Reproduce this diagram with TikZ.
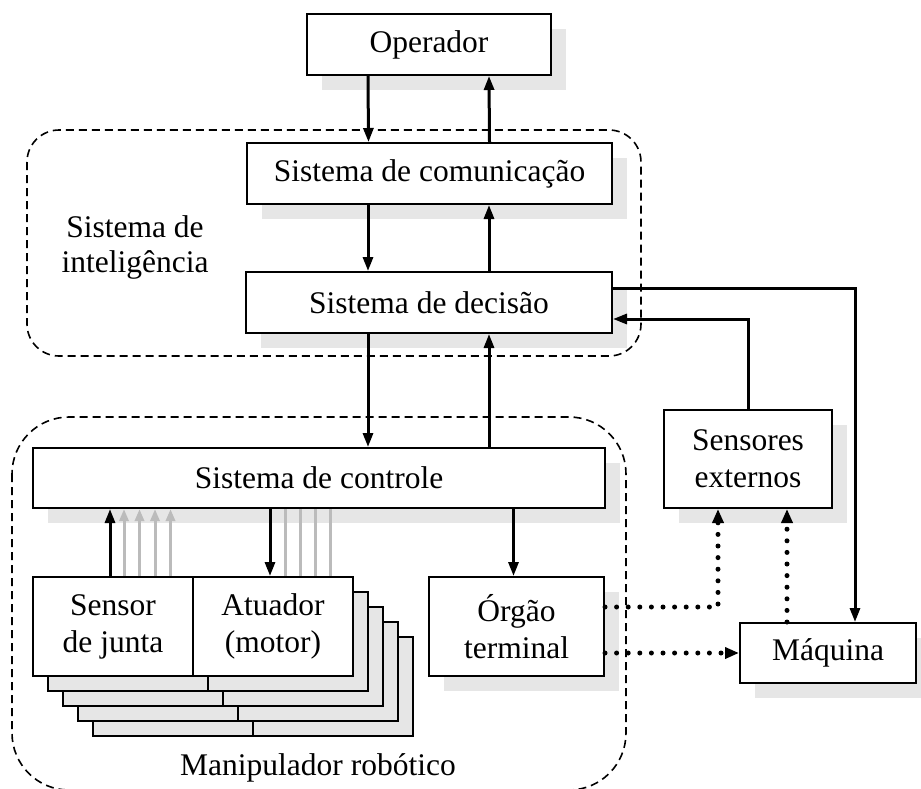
\documentclass[tikz,border=0pt]{standalone}
\usepackage{fontspec}
\setmainfont{Liberation Serif}
\usetikzlibrary{arrows.meta,shadows,calc}
\definecolor{shade}{HTML}{E6E6E6}
\definecolor{lightarr}{HTML}{BBBBBB}
\tikzset{
  every node/.style={font=\fontsize{31.5}{37}\selectfont},
  blk/.style={draw, line width=2pt, fill=white, inner sep=0pt, align=center,
    general shadow={fill=shade, shadow xshift=15pt, shadow yshift=-15pt}},
  plainblk/.style={draw, line width=2pt, fill=white, inner sep=0pt, align=center},
  stackbox/.style={draw, line width=1.6pt, fill=shade},
  arr/.style={line width=3pt, -{Triangle[length=14pt,width=10pt]}},
  grayarr/.style={line width=3pt, draw=lightarr, -{Triangle[length=12pt,width=9pt]}},
  grayline/.style={line width=3pt, draw=lightarr},
  dotarr/.style={line width=5pt, line cap=round, dash pattern=on 0pt off 11.6pt,
    -{Triangle[length=14pt,width=11pt]}},
  region/.style={line width=1.6pt, dash pattern=on 8pt off 5pt},
}
\begin{document}
\begin{tikzpicture}[x=1pt,y=-1pt]
\useasboundingbox (0,0) rectangle (921,788);
\clip (0,0) rectangle (921,788);

% regions
\draw[region, rounded corners=32pt] (27,130) rectangle (641,356);
\draw[region, rounded corners=57pt] (12,417) rectangle (626,790);

% intelligence boxes
\node[blk, minimum width=244pt, minimum height=61pt] (op) at (429,44.5) {Operador};
\node[blk, minimum width=365pt, minimum height=61pt] (com) at (429.5,173.5) {Sistema de comunicação};
\node[blk, minimum width=366pt, minimum height=61pt] (dec) at (429,302.5) {Sistema de decisão};

% control
\node[blk, minimum width=572pt, minimum height=60pt] (ctl) at (319,478) {Sistema de controle};

% stacked joint copies
\foreach \k in {4,3,2,1}{
  \draw[stackbox] (33+15*\k,577+15*\k) rectangle (193+15*\k,676+15*\k);
  \draw[stackbox] (193+15*\k,577+15*\k) rectangle (353+15*\k,676+15*\k);
}
\node[plainblk, minimum width=160pt, minimum height=99pt] (sen) at (113,626.5) {Sensor\\de junta};
\node[plainblk, minimum width=160pt, minimum height=99pt] (atu) at (273,626.5) {Atuador\\(motor)};

\node[blk, minimum width=175pt, minimum height=99pt] (org) at (516.5,626.5) {Órgão\\terminal};
\node[blk, minimum width=168pt, minimum height=98pt] (ext) at (748,459) {Sensores\\externos};
\node[blk, minimum width=176pt, minimum height=60pt] (maq) at (828,653) {Máquina};

% labels
\node[align=center, font=\fontsize{31.5}{35}\selectfont] (intel) at (135,247) {Sistema de\\inteligência};
\node (manip) at (318,768) {Manipulador robótico};

% vertical arrows
\draw[arr] ([xshift=-61pt]op.south) -- ([xshift=-61pt]com.north);
\draw[arr] ([xshift=60pt]com.north) -- ([xshift=60pt]op.south);
\draw[arr] ([xshift=-61.5pt]com.south) -- ([xshift=-61pt]dec.north);
\draw[arr] ([xshift=60pt]dec.north) -- ([xshift=59.5pt]com.south);
\draw[arr] ([xshift=-61pt]dec.south) -- ([xshift=49pt]ctl.north);
\draw[arr] ([xshift=170pt]ctl.north) -- ([xshift=60pt]dec.south);

% control to joints
\draw[arr] ([xshift=-3pt]sen.north) -- ([xshift=-3pt]sen.north |- ctl.south);
\foreach \dx in {11,26.5,42,57.5}{
  \draw[grayarr] ([xshift=\dx pt]sen.north) -- ([xshift=\dx pt]sen.north |- ctl.south);
}
\draw[arr] ([xshift=-3pt]atu.north |- ctl.south) -- ([xshift=-3pt]atu.north);
\foreach \dx in {12,27,42,57}{
  \draw[grayline] ([xshift=\dx pt]atu.north |- ctl.south) -- ([xshift=\dx pt]atu.north);
}
\draw[arr] ([xshift=-3pt]org.north |- ctl.south) -- ([xshift=-3pt]org.north);

% decision <-> external
\draw[arr] ([yshift=14.5pt]dec.east) -| ([xshift=27pt]maq.north);
\draw[arr] (ext.north) |- ([yshift=-16.5pt]dec.east);

% dotted
\draw[dotarr] ([yshift=19.5pt]org.east) -| ([xshift=-30pt]ext.south);
\draw[dotarr] ([yshift=-26.5pt]org.east) -- (maq.west);
\draw[dotarr] ([xshift=-41pt]maq.north) -- ([xshift=-41pt]maq.north |- ext.south);
\end{tikzpicture}
\end{document}
